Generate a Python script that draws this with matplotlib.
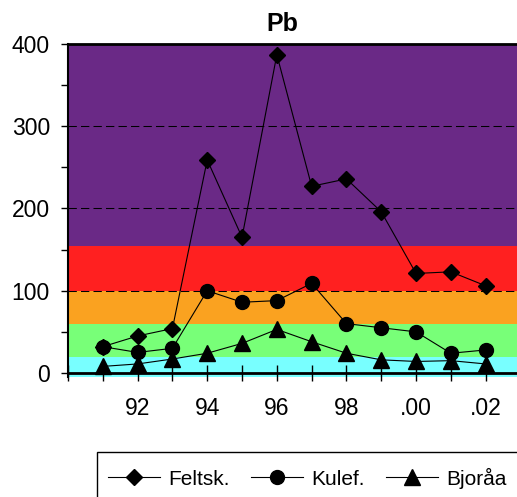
import matplotlib
matplotlib.use("Agg")
import matplotlib.pyplot as plt
from matplotlib.patches import Rectangle
from matplotlib.lines import Line2D
import numpy as np

plt.rcParams['font.family'] = ['Liberation Sans', 'DejaVu Sans']

# Sampling years and Pb concentrations per station
years = ['91', '92', '93', '94', '95', '96', '97', '98', '99', '00', '01', '02']
tick_labels = ['', '', '92', '', '94', '', '96', '', '98', '', '.00', '', '.02']
feltsk = [32, 45, 54, 259, 165, 387, 227, 236, 196, 121, 123, 106]
kulef = [32, 25, 30, 100, 86, 88, 109, 60, 55, 50, 24, 28]
bjoraa = [8, 11, 17, 24, 36, 53, 38, 24, 16, 14, 15, 11]

# Classification bands (lower, upper, colour)
band_edges = [-5, 20, 60, 100, 155, 400]
band_colors = ['#78FFFF', '#78FF78', '#FAA220', '#FF2020', '#6A2986']

W, H = 517, 497
fig = plt.figure(figsize=(W / 100, H / 100), dpi=100)
ax = fig.add_axes([68 / W, (H - 377.1) / H, (W - 68) / W, (377.1 - 44) / H])

for lo, hi, c in zip(band_edges[:-1], band_edges[1:], band_colors):
    ax.axhspan(lo, hi, color=c, zorder=0, lw=0)

for g in [100, 200, 300]:
    ax.axhline(g, color='black', lw=0.75, dashes=(8, 4), zorder=1)

x = np.arange(1, len(years) + 1)
ax.plot(x, feltsk, color='black', lw=0.8, marker='D', ms=8, zorder=3, clip_on=False)
ax.plot(x, kulef, color='black', lw=0.8, marker='o', ms=10, zorder=3, clip_on=False)
ax.plot(x, bjoraa, color='black', lw=0.8, marker='^', ms=12, zorder=3, clip_on=False)

ax.set_xlim(0, 12.9)
ax.set_ylim(-5, 400)

ax.spines['right'].set_visible(False)
ax.spines['top'].set_linewidth(2)
ax.spines['left'].set_linewidth(1.5)
ax.spines['bottom'].set_linewidth(2)
ax.spines['bottom'].set_position(('data', 0))

ax.set_yticks([0, 100, 200, 300, 400])
ax.set_yticks(np.arange(50, 400, 100), minor=True)
ax.tick_params(axis='y', which='both', direction='out', length=5, width=1,
               labelsize=16.5, pad=8)
ax.set_xticks(np.arange(0, 13))
ax.set_xticklabels(tick_labels)
ax.tick_params(axis='x', direction='inout', length=12, width=1, labelsize=16.5, pad=11)

fig.text(282 / W, 1 - 31 / H, 'Pb', ha='center', va='baseline', fontsize=18,
         fontweight='bold')

# Legend frame running off the figure edge
fig.patches.append(Rectangle((97 / W, -0.3), 1.0, (H - 452) / H + 0.3,
                             transform=fig.transFigure, facecolor='white',
                             edgecolor='black', lw=1, figure=fig))
handles = [
    Line2D([], [], color='black', lw=0.8, marker='D', ms=8),
    Line2D([], [], color='black', lw=0.8, marker='o', ms=10),
    Line2D([], [], color='black', lw=0.8, marker='^', ms=12),
]
fig.legend(handles, ['Feltsk.', 'Kulef.', 'Bjoråa'], loc='center left',
           bbox_to_anchor=(108 / W, 1 - 478 / H), ncol=3, frameon=False,
           fontsize=15, handlelength=2.5, handletextpad=0.4, columnspacing=1.0,
           borderpad=0, borderaxespad=0)

fig.savefig('out.png', dpi=100)
